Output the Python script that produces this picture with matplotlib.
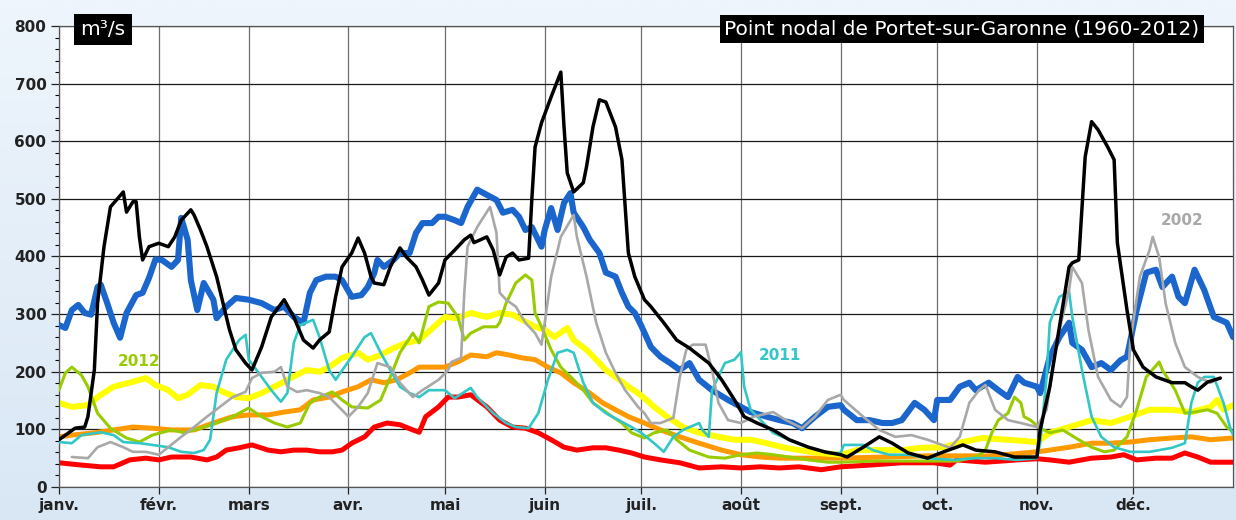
import numpy as np
import matplotlib
matplotlib.use("Agg")
import matplotlib.pyplot as plt
from matplotlib.ticker import MultipleLocator

# mois (jour de l'année du 1er de chaque mois)
mois_jour = [0, 31, 59, 90, 120, 151, 181, 212, 243, 273, 304, 334]
mois_nom = ["janv.", "févr.", "mars", "avr.", "mai", "juin",
            "juil.", "août", "sept.", "oct.", "nov.", "déc."]

# débits journaliers (jour, m3/s)
rouge_j = [0, 7, 13, 17, 22, 27, 31, 35, 41, 46, 49, 52, 56, 60, 65, 69, 73, 77, 81, 85, 88, 91, 95, 98,
           102, 106, 110, 112, 114, 118, 121, 124, 128, 133, 137, 141, 145, 149, 153, 157, 161, 166, 170,
           174, 178, 182, 187, 193, 199, 206, 212, 218, 224, 230, 237, 243, 252, 262, 272, 277, 279, 288,
           298, 304, 308, 314, 321, 327, 331, 335, 341, 346, 350, 354, 358, 365]
rouge_q = [42, 38, 35, 35, 47, 50, 47, 52, 52, 47, 52, 64, 68, 73, 64, 61, 64, 64, 61, 61, 64, 76, 87, 104,
           111, 108, 99, 95, 122, 139, 156, 156, 160, 139, 116, 104, 102, 94, 82, 69, 64, 68, 68,
           64, 59, 52, 47, 42, 33, 35, 33, 35, 33, 35, 30, 35, 38, 42, 42, 38, 47, 43,
           47, 49, 47, 43, 50, 52, 56, 47, 50, 50, 59, 52, 43, 43]

orange_j = [0, 4, 11, 17, 23, 29, 35, 42, 48, 54, 59, 65, 70, 75, 79, 84, 88, 93, 97, 101, 105, 109, 112,
            120, 124, 128, 133, 136, 140, 144, 148, 152, 156, 160, 165, 169, 173, 177, 182, 187, 193, 199,
            206, 212, 218, 224, 243, 270, 290, 304, 308, 314, 321, 327, 333, 339, 346, 352, 358, 365]
orange_q = [87, 90, 94, 99, 104, 102, 99, 99, 111, 122, 125, 125, 130, 134, 151, 156, 165, 174, 186, 181,
            186, 198, 208, 208, 217, 229, 226, 233, 229, 224, 221, 208, 198, 181, 163, 146, 134, 122, 111,
            99, 87, 76, 64, 56, 52, 50, 50, 54, 54, 61, 64, 69, 76, 76, 78, 82, 85, 87, 82, 85]

jaune_j = [0, 4, 9, 13, 17, 22, 27, 30, 34, 37, 40, 44, 48, 51, 55, 59, 63, 68, 72, 77, 81, 84, 88, 93, 96,
           100, 104, 108, 112, 120, 124, 128, 133, 137, 141, 145, 148, 151, 154, 158, 160, 164, 167, 170,
           173, 177, 180, 182, 185, 189, 194, 199, 205, 210, 215, 220, 225, 230, 236, 243, 248, 255, 262,
           268, 275, 281, 287, 295, 304, 308, 314, 321, 327, 333, 339, 346, 352, 358, 360, 362, 365]
jaune_q = [146, 139, 142, 160, 174, 181, 189, 177, 168, 154, 160, 177, 174, 165, 156, 154, 163, 177, 189,
           203, 200, 208, 224, 233, 221, 229, 241, 250, 255, 295, 293, 302, 295, 302, 299, 287, 278, 273,
           260, 276, 255, 238, 221, 203, 191, 174, 163, 154, 139, 122, 104, 94, 87, 82, 82, 76, 69, 64,
           59, 56, 64, 64, 64, 68, 69, 78, 85, 82, 78, 94, 104, 116, 111, 122, 134, 134, 130, 139, 151,
           134, 142]

bleu_j = [0, 2, 4, 6, 8, 10, 12, 13, 15, 17, 19, 21, 24, 26, 28, 30, 32, 35, 37, 38, 40, 41, 43, 45, 48,
          49, 52, 55, 59, 63, 67, 70, 73, 76, 78, 80, 83, 86, 88, 91, 94, 96, 98, 99, 101, 104, 106, 109,
          111, 113, 116, 118, 120, 123, 125, 127, 130, 133, 136, 138, 141, 143, 145, 147, 150, 151, 153,
          155, 157, 159, 160, 163, 165, 168, 170, 173, 175, 177, 179, 181, 184, 187, 190, 193, 196, 199,
          203, 208, 212, 215, 220, 224, 228, 231, 235, 239, 243, 244, 248, 252, 256, 259, 262, 266, 269,
          272, 273, 277, 280, 283, 285, 289, 292, 295, 298, 300, 304, 305, 308, 311, 314, 315, 318, 321,
          324, 327, 330, 332, 335, 338, 341, 343, 346, 348, 350, 353, 356, 359, 361, 363, 365]
bleu_q = [281, 276, 307, 316, 302, 299, 347, 351, 319, 285, 259, 302, 333, 337, 363, 395, 394, 382, 394,
          467, 429, 359, 307, 354, 325, 293, 313, 328, 325, 319, 307, 313, 295, 285, 337, 359, 365, 365,
          359, 330, 333, 347, 371, 394, 382, 394, 406, 406, 441, 458, 458, 469, 469, 463, 458, 486, 516,
          507, 498, 476, 481, 469, 446, 451, 417, 446, 484, 446, 493, 510, 476, 451, 429, 406, 372, 365,
          337, 313, 302, 280, 243, 226, 215, 203, 215, 186, 168, 151, 139, 130, 122, 116, 111, 102, 122,
          139, 142, 134, 116, 116, 111, 111, 116, 146, 134, 116, 151, 151, 174, 181, 168, 181, 168, 156,
          191, 181, 174, 163, 226, 260, 285, 250, 238, 208, 215, 203, 220, 226, 307, 372, 377, 347, 365,
          330, 319, 377, 342, 295, 290, 285, 260]

vert_j = [0, 2, 4, 7, 9, 12, 16, 21, 25, 29, 35, 39, 44, 49, 54, 59, 63, 67, 71, 75, 78, 81, 85, 88, 91,
          96, 100, 103, 106, 110, 112, 115, 118, 121, 124, 126, 128, 132, 136, 137, 139, 142, 145, 147,
          148, 150, 153, 156, 160, 163, 166, 169, 172, 175, 178, 182, 185, 189, 192, 196, 202, 207, 212,
          217, 222, 227, 233, 239, 243, 254, 279, 285, 288, 290, 292, 295, 297, 299, 300, 302, 305, 308,
          312, 317, 321, 325, 328, 332, 335, 338, 342, 343, 347, 350, 353, 357, 360, 363, 365]
vert_q = [168, 198, 208, 194, 174, 128, 102, 85, 78, 90, 99, 94, 102, 111, 122, 137, 122, 111, 104, 111,
          146, 156, 165, 151, 139, 137, 151, 191, 233, 267, 250, 313, 321, 319, 295, 255, 267, 278, 278,
          285, 319, 354, 368, 359, 302, 278, 238, 208, 186, 168, 146, 134, 122, 111, 94, 85, 94, 99, 82,
          64, 52, 50, 56, 59, 56, 52, 47, 43, 43, 45, 45, 52, 64, 94, 116, 128, 156, 146, 122, 116, 102,
          94, 99, 82, 69, 61, 64, 87, 134, 191, 217, 203, 168, 128, 130, 134, 128, 104, 95]

turq_j = [0, 4, 7, 13, 17, 20, 25, 29, 34, 38, 42, 45, 47, 49, 52, 56, 58, 59, 63, 66, 69, 71, 73, 75, 79,
          81, 84, 86, 91, 95, 97, 100, 103, 106, 109, 112, 115, 120, 123, 128, 130, 135, 139, 142, 146,
          149, 152, 155, 158, 160, 163, 166, 170, 174, 178, 181, 185, 188, 191, 194, 199, 200, 202, 203,
          207, 210, 212, 213, 215, 219, 222, 227, 233, 239, 243, 244, 250, 253, 258, 264, 270, 278, 285,
          291, 298, 304, 305, 307, 308, 311, 314, 315, 318, 321, 324, 328, 333, 339, 346, 350, 352, 354,
          356, 359, 362, 364, 365]
turq_q = [78, 76, 90, 95, 90, 78, 76, 73, 69, 61, 59, 64, 82, 163, 221, 255, 264, 221, 191, 168, 148, 163,
          250, 281, 290, 260, 203, 186, 226, 260, 267, 233, 203, 174, 163, 156, 168, 168, 154, 172, 156,
          128, 111, 104, 102, 128, 186, 233, 238, 233, 181, 146, 128, 116, 104, 94, 76, 61, 87, 99, 111,
          99, 87, 168, 215, 221, 234, 174, 134, 111, 94, 82, 69, 59, 59, 73, 73, 64, 56, 56, 50, 47, 50,
          50, 47, 50, 76, 191, 285, 330, 339, 295, 203, 122, 87, 69, 61, 61, 68, 76, 146, 181, 191, 191,
          146, 104, 90]

gris_j = [4, 9, 12, 16, 20, 23, 27, 31, 34, 38, 42, 46, 50, 54, 58, 60, 63, 67, 69, 71, 74, 77, 81, 84, 87,
          90, 93, 96, 99, 103, 106, 110, 113, 118, 121, 122, 125, 126, 127, 130, 134, 136, 137, 139, 142,
          145, 148, 150, 151, 153, 156, 160, 161, 164, 167, 170, 173, 176, 180, 182, 184, 187, 191, 193,
          195, 197, 201, 203, 205, 208, 212, 216, 222, 226, 231, 235, 239, 243, 244, 250, 255, 260, 265,
          270, 277, 280, 283, 286, 288, 291, 295, 299, 304, 307, 310, 314, 315, 318, 320, 323, 327, 330,
          332, 333, 336, 339, 340, 342, 344, 347, 350, 354, 358, 361]
gris_q = [52, 50, 69, 78, 69, 61, 61, 56, 69, 87, 104, 122, 139, 156, 165, 189, 198, 200, 208, 174, 165,
          168, 163, 156, 139, 122, 139, 163, 215, 208, 181, 156, 168, 186, 203, 217, 224, 337, 417, 451,
          486, 441, 337, 325, 313, 285, 267, 247, 285, 365, 434, 472, 434, 365, 285, 233, 198, 168, 139,
          128, 111, 111, 120, 191, 238, 247, 247, 203, 146, 116, 111, 122, 130, 116, 102, 122, 151, 160,
          151, 122, 99, 87, 90, 82, 68, 87, 146, 168, 177, 134, 116, 111, 104, 134, 250, 342, 382, 354,
          273, 191, 151, 139, 156, 250, 365, 411, 434, 399, 319, 250, 208, 191, 181, 189]

noir_j = [0, 5, 8, 9, 11, 12, 14, 16, 20, 21, 23, 24, 25, 26, 28, 31, 34, 36, 38, 41, 42, 44, 46, 49, 51,
          53, 55, 58, 60, 63, 66, 70, 73, 76, 79, 81, 84, 86, 88, 91, 93, 95, 97, 98, 101, 103, 106, 108,
          111, 113, 115, 118, 120, 123, 126, 128, 129, 133, 135, 137, 139, 141, 143, 146, 147, 148, 150,
          153, 156, 157, 158, 160, 163, 164, 166, 168, 170, 173, 175, 177, 179, 182, 184, 188, 192, 196,
          202, 206, 210, 213, 217, 222, 227, 233, 238, 243, 245, 250, 255, 259, 264, 270, 275, 281, 285,
          291, 297, 304, 305, 308, 311, 314, 315, 317, 319, 321, 323, 326, 328, 329, 332, 334, 337, 341,
          346, 350, 352, 354, 357, 361]
noir_q = [82, 102, 104, 122, 203, 319, 417, 486, 512, 477, 495, 495, 434, 394, 417, 423, 417, 434, 463,
          481, 472, 446, 417, 365, 319, 273, 238, 215, 203, 243, 295, 325, 295, 255, 241, 255, 269, 330,
          382, 406, 432, 406, 365, 354, 351, 382, 415, 399, 382, 359, 333, 354, 394, 411, 429, 437, 424,
          434, 411, 368, 399, 406, 394, 397, 500, 590, 632, 677, 720, 625, 545, 512, 528, 556, 625, 672,
          668, 625, 568, 406, 365, 325, 313, 285, 255, 241, 215, 186, 151, 122, 111, 99, 82, 69, 61, 56,
          52, 69, 87, 76, 59, 50, 61, 73, 64, 61, 52, 52, 99, 174, 278, 382, 389, 394, 573, 634, 620, 590,
          568, 424, 307, 238, 208, 191, 181, 181, 174, 168, 182, 189]

fig = plt.figure(figsize=(12.36, 5.2), dpi=100)

# fond bleu clair en dégradé
bg = fig.add_axes([0, 0, 1, 1], zorder=-10)
grad = np.linspace(0, 1, 256).reshape(-1, 1)
bg.imshow(grad, aspect="auto", extent=[0, 1, 0, 1],
          cmap=matplotlib.colors.LinearSegmentedColormap.from_list("bg", ["#d9e7f5", "#eef5fc"]),
          origin="lower")
bg.axis("off")

ax = fig.add_axes([0.0477, 0.0635, 0.950, 0.8865])
ax.set_facecolor("white")

style = dict(solid_joinstyle="round", solid_capstyle="round")
ax.plot(rouge_j, rouge_q, color="#ff0000", lw=3.6, zorder=2, **style)
ax.plot(orange_j, orange_q, color="#ff9900", lw=3.6, zorder=2, **style)
ax.plot(jaune_j, jaune_q, color="#ffff00", lw=4.3, zorder=2, **style)
ax.plot(bleu_j, bleu_q, color="#1a66cc", lw=4.4, zorder=3, **style)
ax.plot(vert_j, vert_q, color="#99cc00", lw=2.2, zorder=3, **style)
ax.plot(turq_j, turq_q, color="#33c6c6", lw=1.9, zorder=4, **style)
ax.plot(gris_j, gris_q, color="#a8a8a8", lw=1.9, zorder=4, **style)
ax.plot(noir_j, noir_q, color="black", lw=2.5, zorder=5, **style)

ax.set_xlim(0, 365)
ax.set_ylim(0, 800)
ax.set_xticks(mois_jour)
ax.set_xticklabels(mois_nom)
ax.yaxis.set_major_locator(MultipleLocator(100))
ax.yaxis.set_minor_locator(MultipleLocator(20))
ax.set_axisbelow(True)
ax.yaxis.grid(True, color="#1a1a1a", lw=0.9)
ax.xaxis.grid(True, color="#6e6e6e", lw=0.9)
ax.tick_params(axis="both", labelsize=11, colors="#222222", width=0.9)
ax.tick_params(axis="y", which="major", length=6, pad=3)
ax.tick_params(axis="y", which="minor", length=3, width=0.8)
ax.tick_params(axis="x", length=5, pad=3)
for lab in ax.get_xticklabels() + ax.get_yticklabels():
    lab.set_fontweight("bold")
for s in ax.spines.values():
    s.set_color("#555555")
    s.set_linewidth(0.9)

# étiquettes des années
ax.text(25, 217, "2012", color="#99cc00", fontsize=11, fontweight="bold", ha="center", va="center")
ax.text(224, 229, "2011", color="#33c6c6", fontsize=11, fontweight="bold", ha="center", va="center")
ax.text(349, 462, "2002", color="#a8a8a8", fontsize=11, fontweight="bold", ha="center", va="center")

# cartouches noirs
fig.text(0.0834, 0.9435, "m³/s", color="white", fontsize=14.5, ha="center", va="center",
         bbox=dict(boxstyle="square,pad=0.3", fc="black", ec="none"))
fig.text(0.7783, 0.9435, "Point nodal de Portet-sur-Garonne (1960-2012)", color="white",
         fontsize=14.5, ha="center", va="center",
         bbox=dict(boxstyle="square,pad=0.22", fc="black", ec="none"))

fig.savefig("out.png", dpi=100)
